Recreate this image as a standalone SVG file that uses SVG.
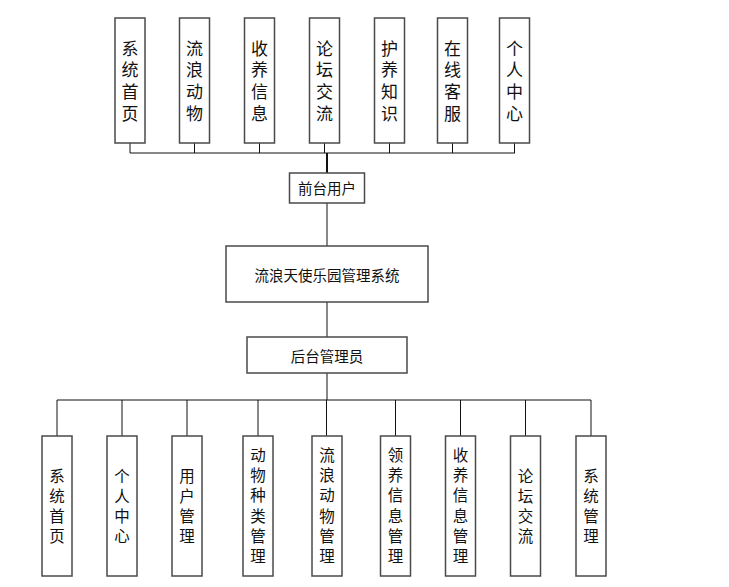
<svg xmlns="http://www.w3.org/2000/svg" width="729" height="587" viewBox="0 0 729 587">
<style>
.box{fill:#fff;stroke:#4a4a4a;stroke-width:1.5}
.t{font-family:"Noto Sans CJK SC","Noto Sans CJK JP",sans-serif;fill:#111;text-anchor:middle}
.h{font-size:14.5px;dominant-baseline:central}
.v1{font-size:17px;writing-mode:vertical-rl;letter-spacing:4.7px}
.v2{font-size:15.5px;writing-mode:vertical-rl;letter-spacing:4.8px}
.ln{stroke:#111;stroke-width:1;fill:none}
.lnb{stroke:#111;stroke-width:2;fill:none}
</style>
<rect width="729" height="587" fill="#fff"/>
<g id="connectors">
<path class="ln" d="M130,143V153M194.5,143V153M259.5,143V153M324.5,143V153M389.5,143V153M452.5,143V153M514.5,143V153M130,153H515"/>
<path class="lnb" d="M327,153V173"/>
<path class="ln" d="M327,203V246M327,302V337M327,373V400M57,400H591M57,400V436M122,400V436M187,400V436M258,400V436M326.5,400V436M395.5,400V436M460.5,400V436M525.5,400V436M591,400V436"/>
</g>
<g id="top1"><rect class="box" x="115" y="18" width="30" height="125"/><text class="t v1" x="130" y="83">系统首页</text></g>
<g id="top2"><rect class="box" x="179.5" y="18" width="30" height="125"/><text class="t v1" x="194.5" y="83">流浪动物</text></g>
<g id="top3"><rect class="box" x="244.5" y="18" width="30" height="125"/><text class="t v1" x="259.5" y="83">收养信息</text></g>
<g id="top4"><rect class="box" x="309.5" y="18" width="30" height="125"/><text class="t v1" x="324.5" y="83">论坛交流</text></g>
<g id="top5"><rect class="box" x="374.5" y="18" width="30" height="125"/><text class="t v1" x="389.5" y="83">护养知识</text></g>
<g id="top6"><rect class="box" x="437.5" y="18" width="30" height="125"/><text class="t v1" x="452.5" y="83">在线客服</text></g>
<g id="top7"><rect class="box" x="499.5" y="18" width="30" height="125"/><text class="t v1" x="514.5" y="83">个人中心</text></g>
<g id="front"><rect class="box" x="289.5" y="173" width="75" height="30"/><text class="t h" x="327" y="187.5">前台用户</text></g>
<g id="main"><rect class="box" x="226" y="246" width="202" height="56"/><text class="t h" x="327" y="274.5">流浪天使乐园管理系统</text></g>
<g id="admin"><rect class="box" x="247" y="337" width="160" height="36"/><text class="t h" x="327" y="355">后台管理员</text></g>
<g id="b1"><rect class="box" x="42" y="436" width="30" height="140"/><text class="t v2" x="57" y="508.5">系统首页</text></g>
<g id="b2"><rect class="box" x="107" y="436" width="30" height="140"/><text class="t v2" x="122" y="508.5">个人中心</text></g>
<g id="b3"><rect class="box" x="172" y="436" width="30" height="140"/><text class="t v2" x="187" y="508.5">用户管理</text></g>
<g id="b4"><rect class="box" x="243" y="436" width="30" height="140"/><text class="t v2" x="258" y="508">动物种类管理</text></g>
<g id="b5"><rect class="box" x="312" y="436" width="30" height="140"/><text class="t v2" x="327" y="508">流浪动物管理</text></g>
<g id="b6"><rect class="box" x="380.5" y="436" width="30" height="140"/><text class="t v2" x="395.5" y="508">领养信息管理</text></g>
<g id="b7"><rect class="box" x="445.5" y="436" width="30" height="140"/><text class="t v2" x="460.5" y="508">收养信息管理</text></g>
<g id="b8"><rect class="box" x="510.5" y="436" width="30" height="140"/><text class="t v2" x="525.5" y="508.5">论坛交流</text></g>
<g id="b9"><rect class="box" x="576" y="436" width="30" height="140"/><text class="t v2" x="591" y="508.5">系统管理</text></g>
</svg>
